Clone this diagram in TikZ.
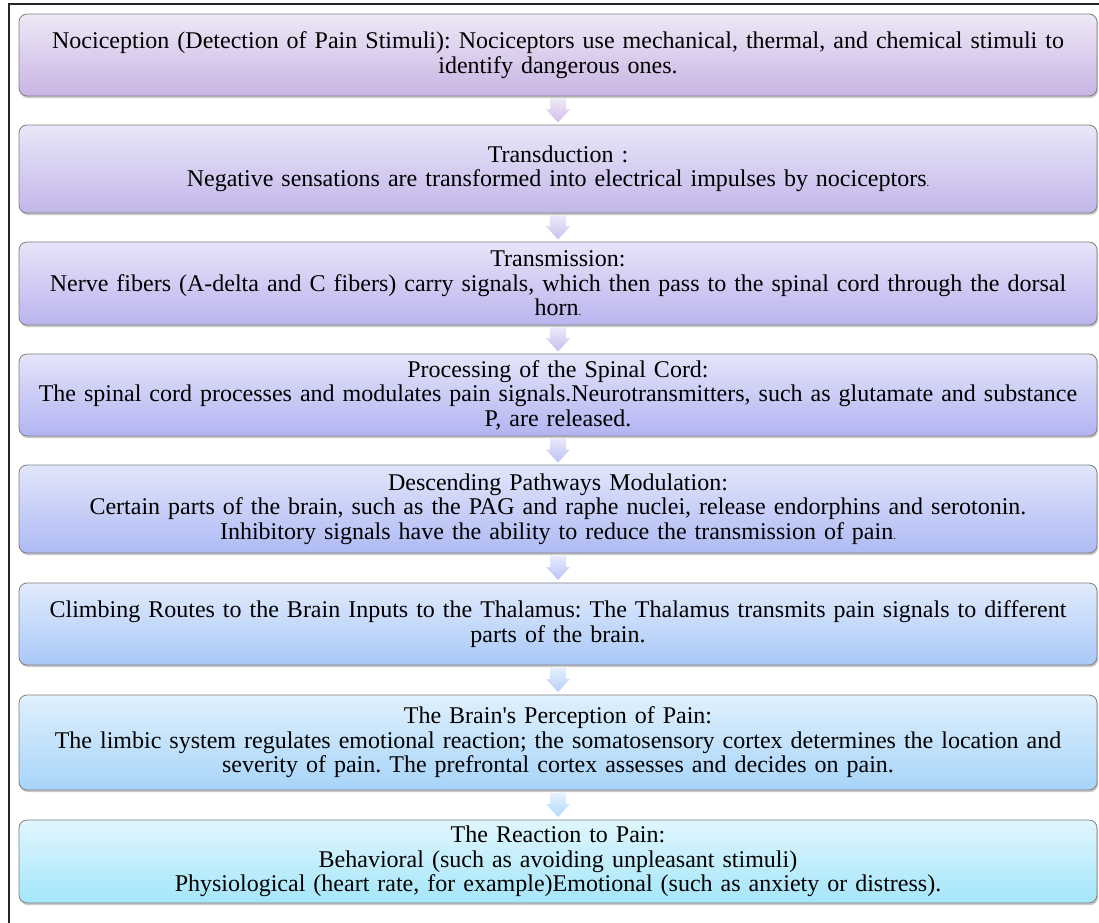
\documentclass[tikz,border=0pt]{standalone}
\usepackage{fontspec}
\setmainfont{Liberation Serif}[Ligatures=TeXOff]
\usetikzlibrary{shadows,calc}
\definecolor{c1t}{HTML}{EEE8F6}\definecolor{c1b}{HTML}{C8B4E3}
\definecolor{c2t}{HTML}{EAE6F8}\definecolor{c2b}{HTML}{C2B6EA}
\definecolor{c3t}{HTML}{E7E4F9}\definecolor{c3b}{HTML}{BAB4EE}
\definecolor{c4t}{HTML}{E4E4FA}\definecolor{c4b}{HTML}{B2B4F1}
\definecolor{c5t}{HTML}{E2E6FB}\definecolor{c5b}{HTML}{AEBAF4}
\definecolor{c6t}{HTML}{E1EBFC}\definecolor{c6b}{HTML}{A9C8F8}
\definecolor{c7t}{HTML}{E0F0FD}\definecolor{c7b}{HTML}{A6D4F9}
\definecolor{c8t}{HTML}{E0F6FD}\definecolor{c8b}{HTML}{A4E6FA}
\frenchspacing
\begin{document}
\begin{tikzpicture}[x=0.75pt,y=-0.75pt,
  stepbox/.style={rounded corners=6pt, draw=black!50, line width=0.6pt,
    minimum width=808.5pt, text width=805pt, align=center, inner sep=0pt,
    font=\fontsize{18}{18.3}\selectfont\frenchspacing,
    drop shadow={shadow xshift=0.8pt, shadow yshift=-1.6pt, opacity=0.35, fill=black!60}}]
\clip (0,0) rectangle (1099,923);
\fill[white] (0,0) rectangle (1099,923);
\draw[black!85, line width=0.8pt] (9,4) rectangle (1120,940);

\node[stepbox, minimum height=61.5pt, top color=c1t, bottom color=c1b] (b1) at (558,55)
 {Nociception (Detection of Pain Stimuli): Nociceptors use mechanical, thermal, and chemical stimuli to\\identify dangerous ones.};
\node[stepbox, minimum height=66pt, top color=c2t, bottom color=c2b] (b2) at (558,169)
 {Transduction :\\Negative sensations are transformed into electrical impulses by nociceptors{\footnotesize.}};
\node[stepbox, minimum height=62.25pt, top color=c3t, bottom color=c3b] (b3) at (558,283.5)
 {Transmission:\\Nerve fibers (A-delta and C fibers) carry signals, which then pass to the spinal cord through the dorsal\\horn{\footnotesize.}};
\node[stepbox, minimum height=61.5pt, top color=c4t, bottom color=c4b] (b4) at (558,395)
 {Processing of the Spinal Cord:\\The spinal cord processes and modulates pain signals.Neurotransmitters, such as glutamate and substance\\P, are released.};
\node[stepbox, minimum height=66pt, top color=c5t, bottom color=c5b] (b5) at (558,509)
 {Descending Pathways Modulation:\\Certain parts of the brain, such as the PAG and raphe nuclei, release endorphins and serotonin.\\Inhibitory signals have the ability to reduce the transmission of pain{\footnotesize.}};
\node[stepbox, minimum height=61.5pt, top color=c6t, bottom color=c6b] (b6) at (558,624)
 {Climbing Routes to the Brain Inputs to the Thalamus: The Thalamus transmits pain signals to different\\parts of the brain.};
\node[stepbox, minimum height=71.25pt, top color=c7t, bottom color=c7b] (b7) at (558,742.5)
 {The Brain's Perception of Pain:\\The limbic system regulates emotional reaction; the somatosensory cortex determines the location and\\severity of pain. The prefrontal cortex assesses and decides on pain.};
\node[stepbox, minimum height=62.25pt, top color=c8t, bottom color=c8b] (b8) at (558,861.5)
 {The Reaction to Pain:\\Behavioral (such as avoiding unpleasant stimuli)\\Physiological (heart rate, for example)Emotional (such as anxiety or distress).};

\foreach \a/\b/\cc in {b1/b2/c1b, b2/b3/c2b, b3/b4/c3b, b4/b5/c4b, b5/b6/c5b, b6/b7/c6b, b7/b8/c7b}{
  \coordinate (m) at ($(\a.south)!0.5!(\b.north)$);
  \shade[top color=white!70!\cc, bottom color=\cc!85!white]
    ($(m)+(-8,-12)$) -- ($(m)+(8,-12)$) -- ($(m)+(8,-1)$) -- ($(m)+(12,-1)$)
    -- ($(m)+(0,12)$) -- ($(m)+(-12,-1)$) -- ($(m)+(-8,-1)$) -- cycle;
}
\end{tikzpicture}
\end{document}
